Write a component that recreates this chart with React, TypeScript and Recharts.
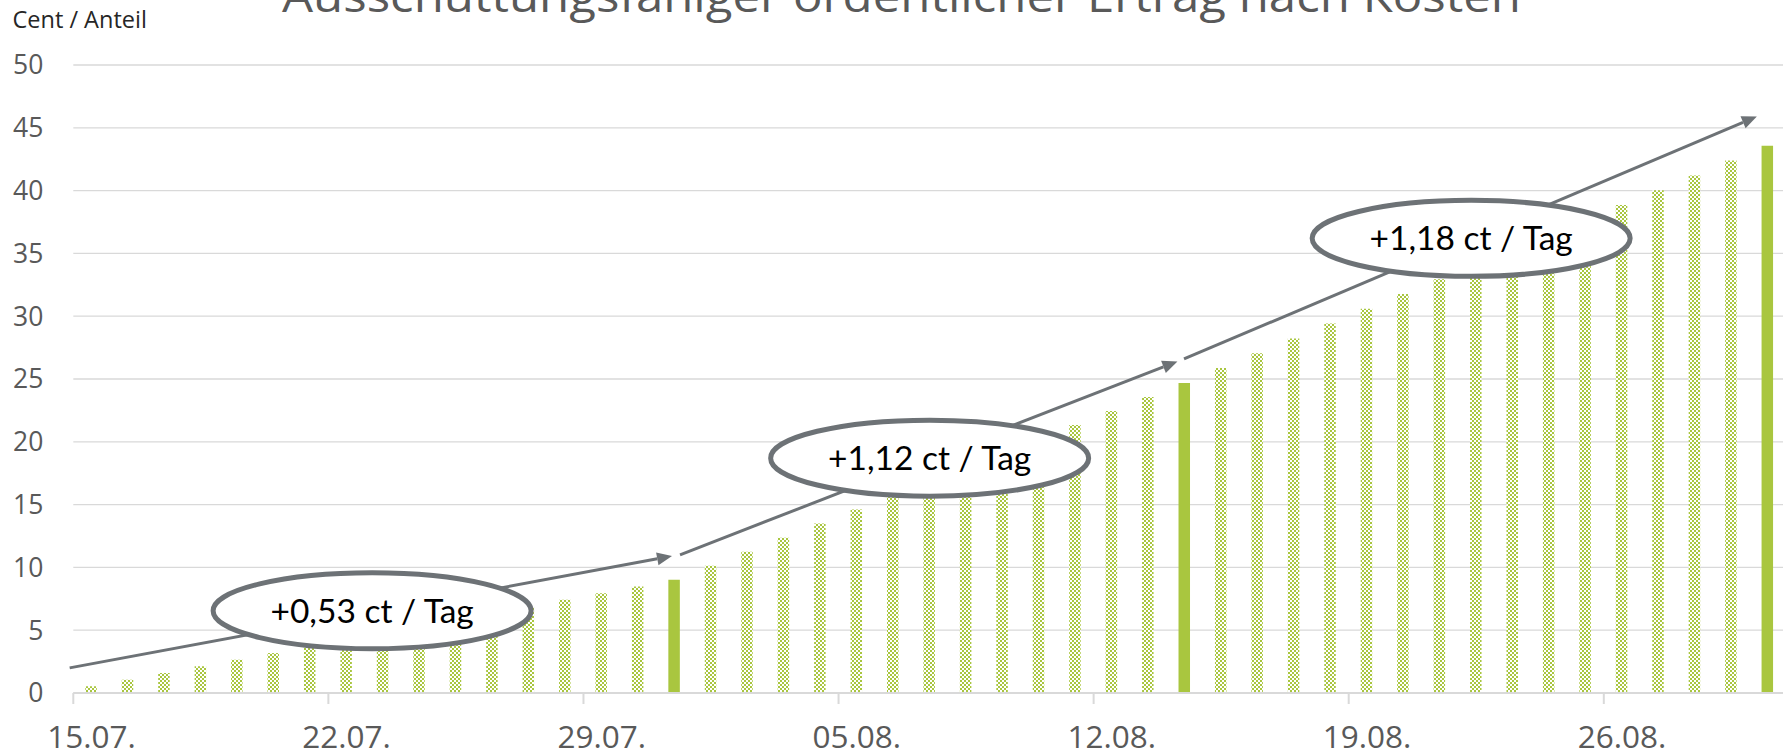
import React from 'react'
import { ComposedChart, Bar, Cell, XAxis, YAxis, CartesianGrid, ReferenceLine, ReferenceDot } from 'recharts'

// Ausschüttungsfähiger ordentlicher Ertrag nach Kosten, Cent / Anteil, daily
const dates = [
    '15.07.', '16.07.', '17.07.', '18.07.', '19.07.', '20.07.', '21.07.', '22.07.', '23.07.', '24.07.',
    '25.07.', '26.07.', '27.07.', '28.07.', '29.07.', '30.07.', '31.07.',
    '01.08.', '02.08.', '03.08.', '04.08.', '05.08.', '06.08.', '07.08.', '08.08.', '09.08.', '10.08.',
    '11.08.', '12.08.', '13.08.', '14.08.', '15.08.', '16.08.', '17.08.', '18.08.', '19.08.', '20.08.',
    '21.08.', '22.08.', '23.08.', '24.08.', '25.08.', '26.08.', '27.08.', '28.08.', '29.08.', '30.08.',
]

const values = [
    0.53, 1.06, 1.59, 2.12, 2.65, 3.18, 3.71, 4.24, 4.77, 5.30,
    5.83, 6.36, 6.89, 7.42, 7.95, 8.48, 9.01,
    10.13, 11.25, 12.37, 13.49, 14.61, 15.73, 16.85, 17.97, 19.09, 20.21,
    21.33, 22.45, 23.57, 24.69, 25.87, 27.05, 28.23, 29.41, 30.59, 31.77,
    32.95, 34.13, 35.31, 36.49, 37.67, 38.85, 40.03, 41.21, 42.39, 43.57,
]

const highlightDates = ['31.07.', '14.08.', '30.08.']

const yTicks = [0, 5, 10, 15, 20, 25, 30, 35, 40, 45, 50]
const xLabelDates = ['15.07.', '22.07.', '29.07.', '05.08.', '12.08.', '19.08.', '26.08.']

// trend arrows and rate labels, in chart units (day index / cent)
const arrows = [
    { from: [-0.6, 2.0], to: [15.93, 10.9] },
    { from: [16.15, 11.0], to: [29.8, 26.4] },
    { from: [29.98, 26.6], to: [45.7, 45.9] },
]
const rateLabels = [
    { day: 7.7, cent: 6.55, text: '+0,53 ct / Tag' },
    { day: 23.0, cent: 18.7, text: '+1,12 ct / Tag' },
    { day: 37.86, cent: 36.2, text: '+1,18 ct / Tag' },
]

const data = dates.map((d, i) => ({ day: i, date: d, value: values[i] }))

const W = 1786
const H = 754
const LEFT = 73.3
const PLOT_W = W - LEFT
const DAY_PX = PLOT_W / dates.length
const GREEN = '#a9c63f'
const GREY = '#6d7276'
const AXIS_TEXT = '#595959'

const XTick = (props: any) => {
    const { x, y, payload } = props
    return (
        <g>
            <line x1={x - DAY_PX / 2} x2={x - DAY_PX / 2} y1={y} y2={y + 11} stroke="#d9d9d9" strokeWidth={2} />
            <text x={x} y={y + 55} textAnchor="middle" fill={AXIS_TEXT} fontSize={31.5} fontFamily="'Open Sans', sans-serif">
                {dates[payload.value]}
            </text>
        </g>
    )
}

const ArrowShape = (props: any) => {
    const { x1, y1, x2, y2 } = props
    if ([x1, y1, x2, y2].some(v => v == null || isNaN(v))) return null
    const a = Math.atan2(y2 - y1, x2 - x1)
    const len = 15
    const half = 6.5
    const bx = x2 - len * Math.cos(a)
    const by = y2 - len * Math.sin(a)
    const px = -Math.sin(a) * half
    const py = Math.cos(a) * half
    return (
        <g>
            <line x1={x1} y1={y1} x2={bx} y2={by} stroke={GREY} strokeWidth={3} />
            <polygon points={`${x2},${y2} ${bx + px},${by + py} ${bx - px},${by - py}`} fill={GREY} />
        </g>
    )
}

const ellipseShape = (text: string) => (props: any) => {
    const { cx, cy } = props
    return (
        <g>
            <ellipse cx={cx} cy={cy} rx={159} ry={38} fill="#ffffff" stroke={GREY} strokeWidth={5} />
            <text x={cx} y={cy} dy="0.36em" textAnchor="middle" fill="#000000" fontSize={33.5} fontFamily="Lato, sans-serif">
                {text}
            </text>
        </g>
    )
}

export default function App() {
    return (
        <div style={{ position: 'absolute', left: 0, top: 0, width: 1783, height: H, overflow: 'hidden', background: '#fff' }}>
            <ComposedChart width={W} height={H} data={data} margin={{ top: 65, right: 0, bottom: 0, left: 0 }}>
                <defs>
                    <pattern id="checker" width={4} height={4} patternUnits="userSpaceOnUse">
                        <rect x={0} y={0} width={4} height={4} fill="#ffffff" />
                        <rect x={0} y={0} width={2} height={2} fill={GREEN} />
                        <rect x={2} y={2} width={2} height={2} fill={GREEN} />
                    </pattern>
                </defs>
                <CartesianGrid vertical={false} stroke="#d9d9d9" strokeWidth={1.3} />
                <XAxis
                    dataKey="day"
                    type="number"
                    domain={[-0.5, dates.length - 0.5]}
                    allowDataOverflow
                    ticks={xLabelDates.map(d => dates.indexOf(d))}
                    tick={<XTick />}
                    tickLine={false}
                    tickSize={0}
                    tickMargin={0}
                    axisLine={{ stroke: '#d9d9d9', strokeWidth: 2 }}
                    height={61}
                    interval={0}
                />
                <YAxis
                    domain={[0, 50]}
                    ticks={yTicks}
                    width={LEFT}
                    axisLine={false}
                    tickLine={false}
                    tickSize={0}
                    tickMargin={30}
                    tick={{ fill: AXIS_TEXT, fontSize: 26.5, fontFamily: "'Open Sans', sans-serif" }}
                />
                <Bar dataKey="value" barSize={11.5} isAnimationActive={false}>
                    {data.map(d => (
                        <Cell key={d.date} fill={highlightDates.includes(d.date) ? GREEN : 'url(#checker)'} />
                    ))}
                </Bar>
                {arrows.map((a, i) => (
                    <ReferenceLine
                        key={`arrow-${i}`}
                        segment={[{ x: a.from[0], y: a.from[1] }, { x: a.to[0], y: a.to[1] }]}
                        ifOverflow="visible"
                        shape={ArrowShape}
                    />
                ))}
                {rateLabels.map(l => (
                    <ReferenceDot key={l.text} x={l.day} y={l.cent} r={1} ifOverflow="visible" shape={ellipseShape(l.text)} />
                ))}
            </ComposedChart>
            <svg width={1783} height={H} style={{ position: 'absolute', left: 0, top: 0, pointerEvents: 'none' }}>
                <text x={282} y={11.5} fill={AXIS_TEXT} fontSize={44} fontFamily="'Open Sans', sans-serif" textLength={1239} lengthAdjust="spacingAndGlyphs">
                    Ausschüttungsfähiger ordentlicher Ertrag nach Kosten
                </text>
                <text x={12.5} y={28} fill="#262626" fontSize={23.5} fontFamily="'Open Sans', sans-serif">
                    Cent / Anteil
                </text>
            </svg>
        </div>
    )
}
